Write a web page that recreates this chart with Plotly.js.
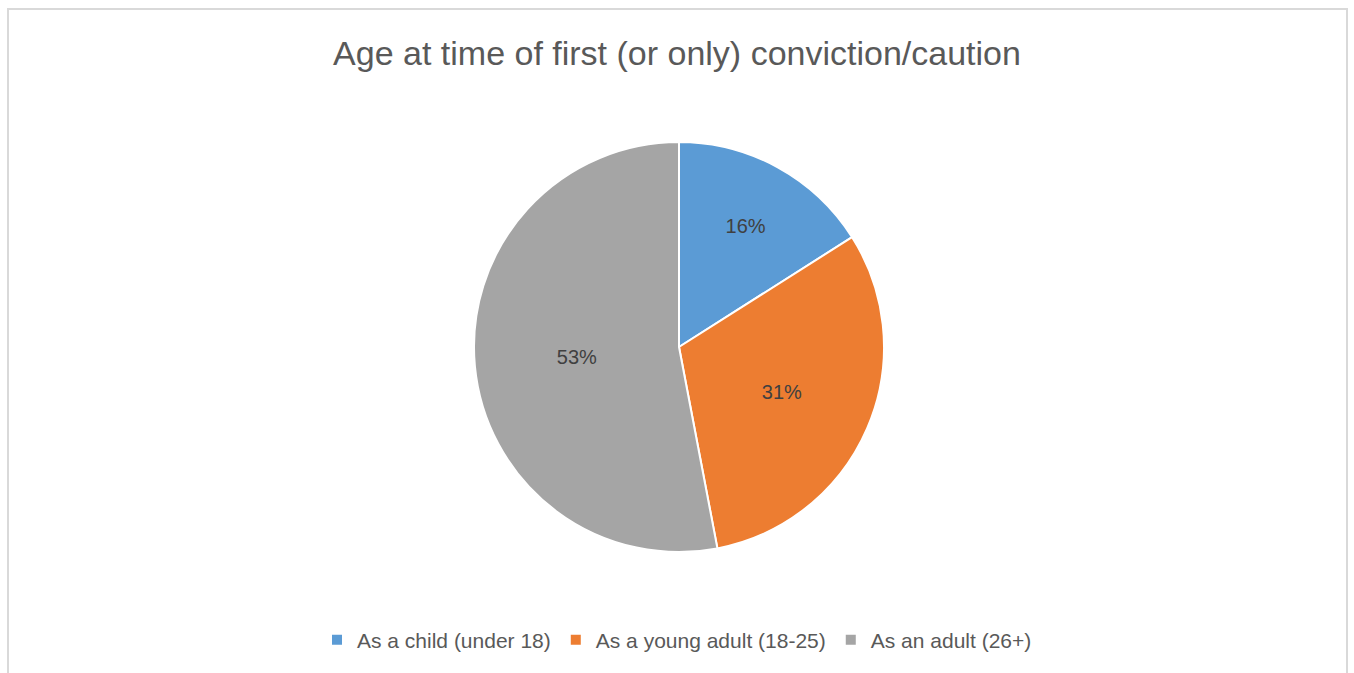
<!DOCTYPE html>
<html>
<head>
<meta charset="utf-8">
<script src="https://cdn.plot.ly/plotly-3.0.1.min.js"></script>
<style>
html,body{margin:0;padding:0;background:#fff;}
#chart{width:1354px;height:673px;position:absolute;left:0;top:0;}
#frame{position:absolute;left:7px;top:8px;width:1341px;height:700px;border:2px solid #d9d9d9;box-sizing:border-box;pointer-events:none;z-index:5;}
</style>
</head>
<body>
<div id="chart"></div>
<div id="frame"></div>
<script>
const categories = ["As a child (under 18)", "As a young adult (18-25)", "As an adult (26+)"];
const shares = [16, 31, 53];
const colors = ["#5B9BD5", "#ED7D31", "#A5A5A5"];

const trace = {
  type: "pie",
  labels: categories,
  values: shares,
  sort: false,
  direction: "clockwise",
  rotation: 0,
  marker: {colors: colors, line: {color: "#ffffff", width: 2}},
  textinfo: "percent",
  texttemplate: "%{value}%",
  textposition: "inside",
  insidetextorientation: "horizontal",
  insidetextfont: {family: "Liberation Sans, Arial, sans-serif", size: 20, color: "#404040"},
  hoverinfo: "label+percent",
  domain: {x: [474/1354, 884/1354], y: [1-552/673, 1-142/673]}
};

const layout = {
  width: 1354,
  height: 673,
  margin: {l: 0, r: 0, t: 0, b: 0},
  paper_bgcolor: "#ffffff",
  title: {
    text: "Age at time of first (or only) conviction/caution",
    font: {family: "Liberation Sans, Arial, sans-serif", size: 34, color: "#595959"},
    x: 0.5, xanchor: "center",
    y: 1-53/673, yanchor: "middle"
  },
  showlegend: true,
  legend: {
    orientation: "h",
    x: 0.5, xanchor: "center",
    y: 1-640/673, yanchor: "middle",
    font: {family: "Liberation Sans, Arial, sans-serif", size: 21, color: "#595959"},
    itemsizing: "constant"
  }
};

Plotly.newPlot("chart", [trace], layout, {displayModeBar: false, staticPlot: true});
</script>
</body>
</html>
